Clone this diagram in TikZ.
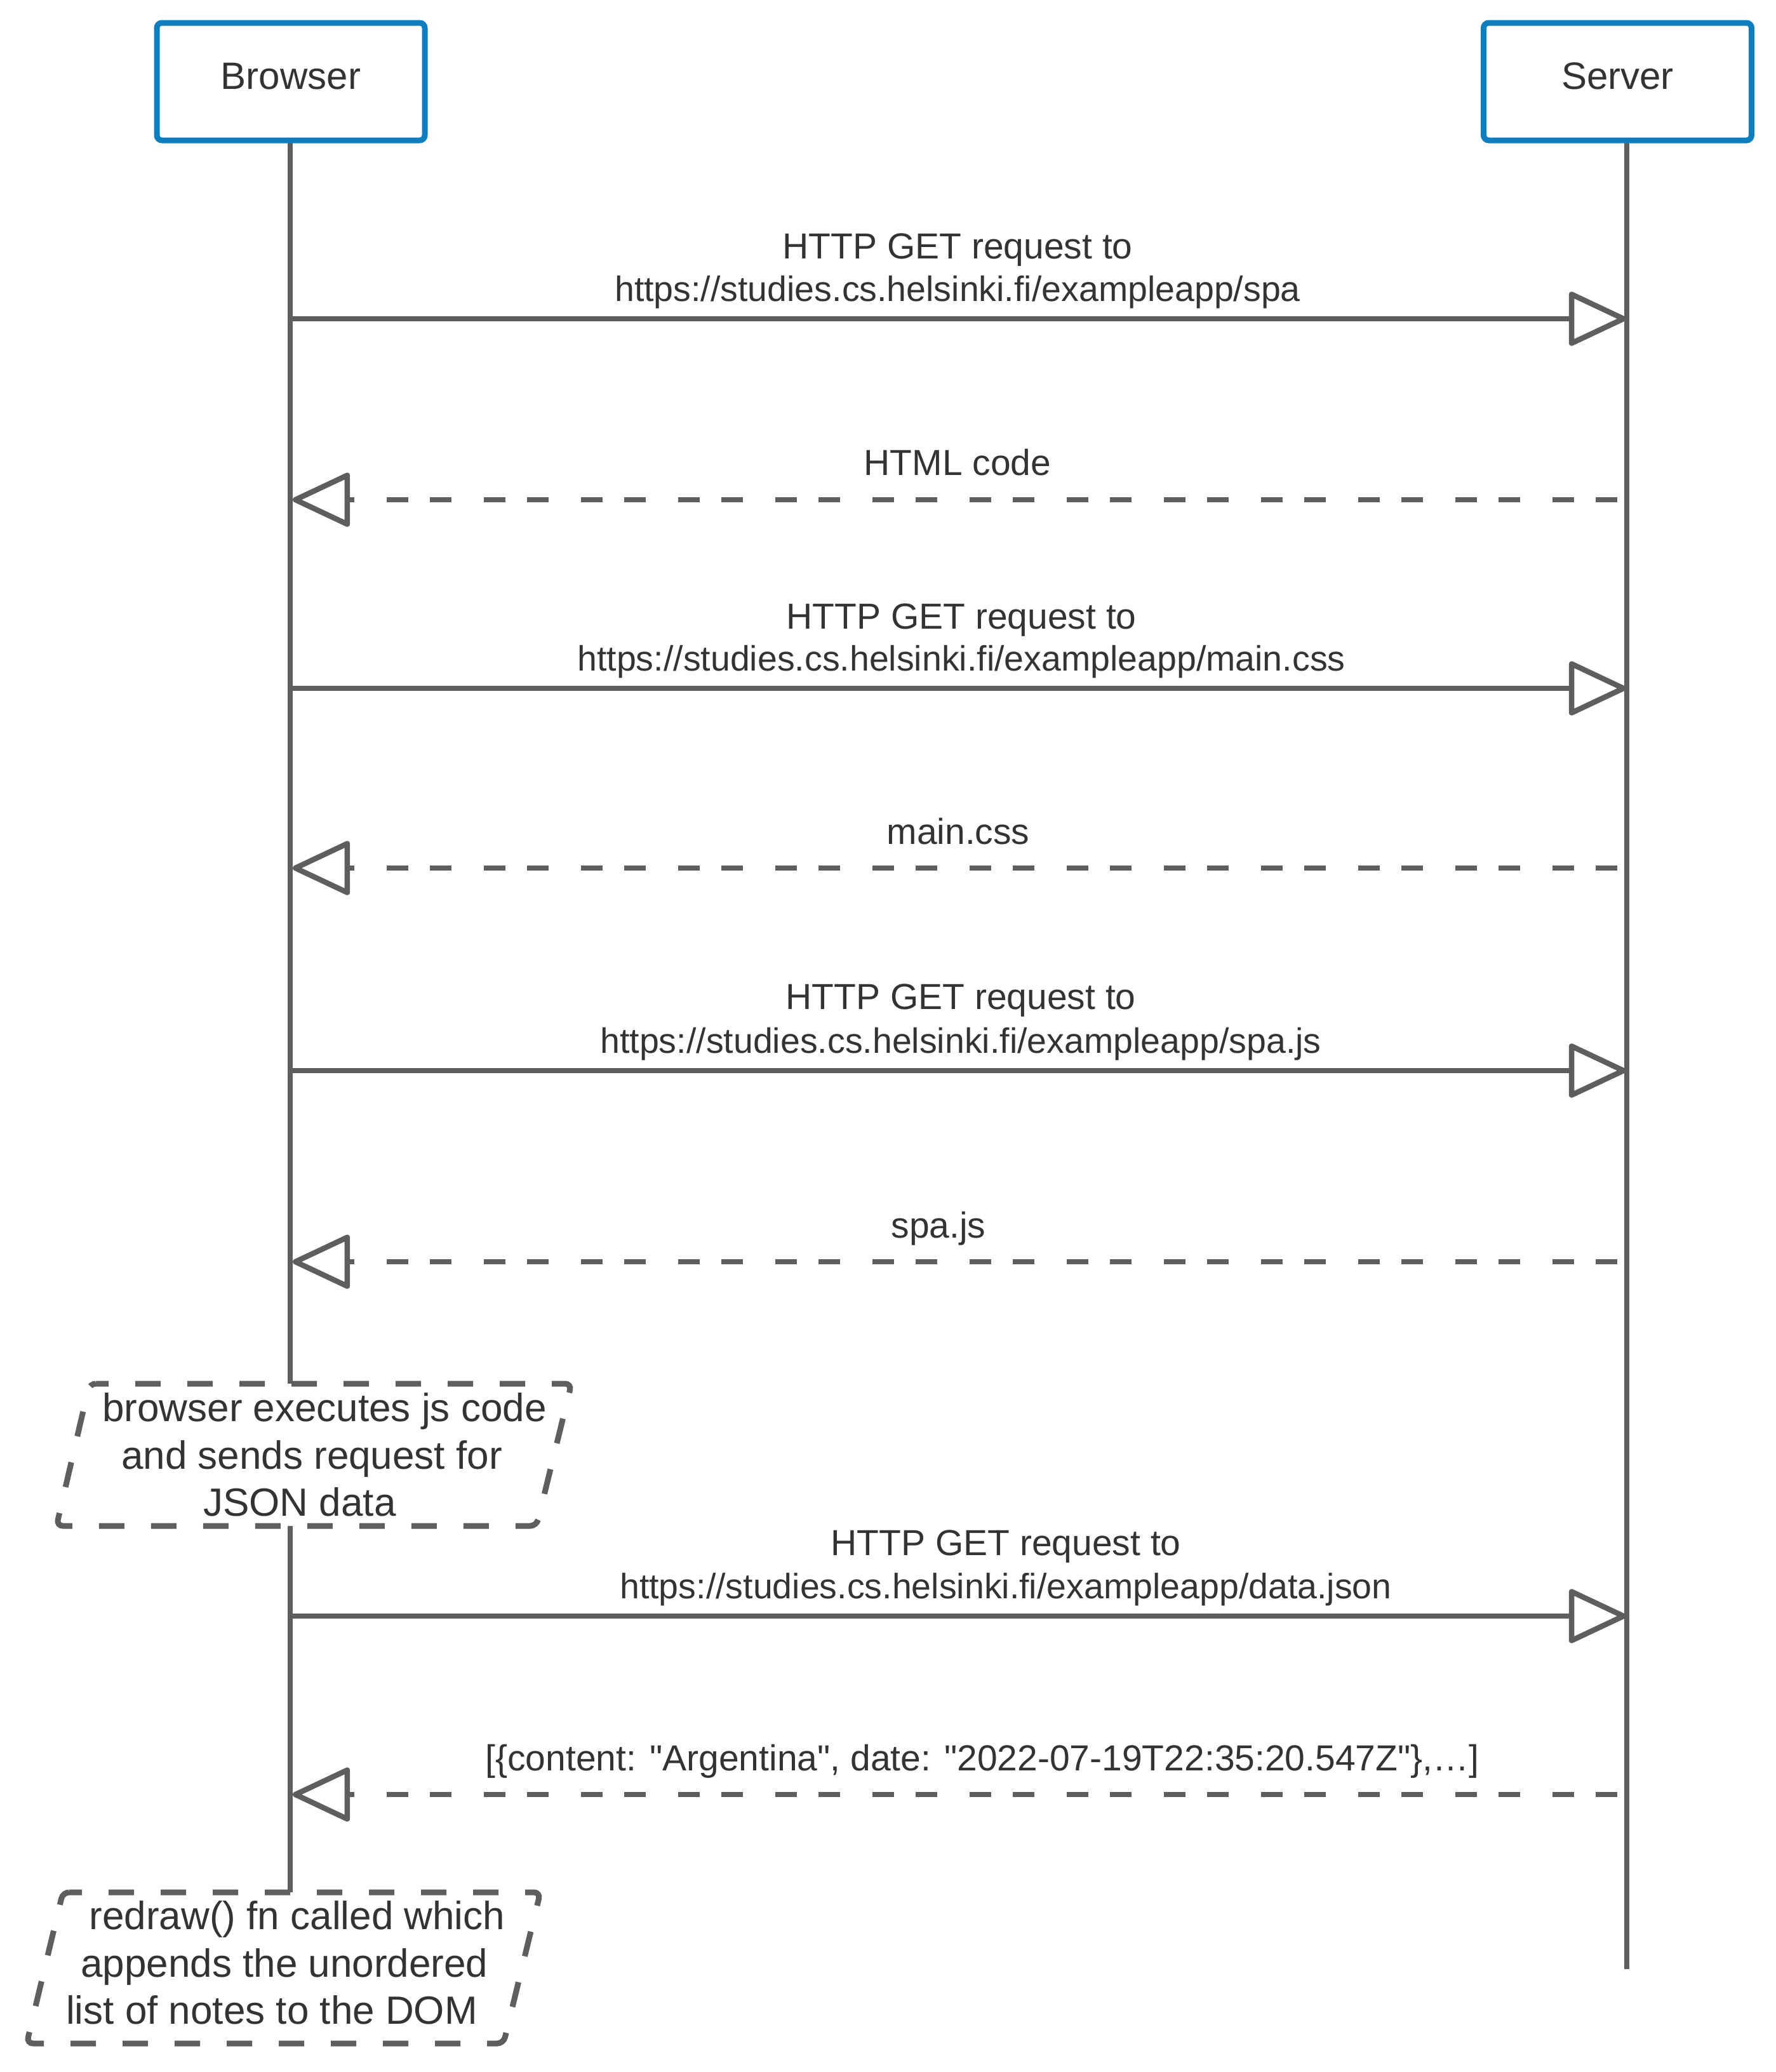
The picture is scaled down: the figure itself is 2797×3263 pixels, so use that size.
\documentclass[tikz,border=0pt]{standalone}
\usepackage{fontspec}
\setmainfont{Liberation Sans}[Ligatures=TeXOff]
\usetikzlibrary{arrows.meta}
\definecolor{lineg}{HTML}{5E5E5E}
\definecolor{boxblue}{HTML}{0F7EBE}
\definecolor{txt}{HTML}{333333}
\tikzset{
 actor/.style={draw=boxblue, line width=9pt, fill=white, rounded corners=8pt, minimum width=422pt, minimum height=185pt, inner sep=0pt, text=txt, font=\fontsize{60}{72}\selectfont, text height=43pt, text depth=20pt},
 life/.style={draw=lineg, line width=8.5pt},
 req/.style={draw=lineg, line width=8.5pt, -{Triangle[open, length=96pt, width=88pt, round]}},
 resp/.style={req, dash pattern=on 34pt off 34pt on 34pt off 51pt},
 lbl/.style={text=txt, font=\fontsize{57}{68}\selectfont, anchor=base, inner sep=0pt},
 url/.style={lbl, font=\fontsize{55.5}{66}\selectfont},
 notetext/.style={text=txt, font=\fontsize{62}{74.5}\selectfont, align=center, inner sep=0pt},
 noteshape/.style={draw=lineg, line width=9pt, dash pattern=on 40pt off 42pt, dash phase=20pt, rounded corners=10pt, fill=white},
}
\begin{document}
\begin{tikzpicture}[x=1pt, y=-1pt]
\useasboundingbox (0,0) rectangle (2797,3263);
% lifeline coordinates
\coordinate (btop) at (457,222);
\coordinate (n1top) at (457,2179);
\coordinate (n1bot) at (457,2403);
\coordinate (n2top) at (457,2980);
\coordinate (stop) at (2562,222);
\coordinate (sbot) at (2562,3101);
\draw[life] (btop) -- (n1top);
\draw[life] (n1bot) -- (n2top);
\draw[life] (stop) -- (sbot);
% message end points
\coordinate (b1) at (457,502);  \coordinate (s1) at (2561,502);
\coordinate (r2) at (2547,787); \coordinate (t2) at (461,787);
\coordinate (b3) at (457,1084); \coordinate (s3) at (2561,1084);
\coordinate (r4) at (2547,1367); \coordinate (t4) at (461,1367);
\coordinate (b5) at (457,1686); \coordinate (s5) at (2561,1686);
\coordinate (r6) at (2547,1987); \coordinate (t6) at (461,1987);
\coordinate (b7) at (457,2545); \coordinate (s7) at (2561,2545);
\coordinate (r8) at (2547,2826); \coordinate (t8) at (461,2826);
\draw[req] (b1) -- (s1);
\draw[resp] (r2) -- (t2);
\draw[req] (b3) -- (s3);
\draw[resp] (r4) -- (t4);
\draw[req] (b5) -- (s5);
\draw[resp] (r6) -- (t6);
\draw[req] (b7) -- (s7);
\draw[resp] (r8) -- (t8);
% labels
\node[lbl] (l1a) at (1508,407) {HTTP GET request to};
\node[url] (l1b) at (1508,474) {https://studies.cs.helsinki.fi/exampleapp/spa};
\node[lbl] (l2) at (1508,748) {HTML code};
\node[lbl] (l3a) at (1514,990) {HTTP GET request to};
\node[url] (l3b) at (1514,1056) {https://studies.cs.helsinki.fi/exampleapp/main.css};
\node[lbl] (l4) at (1509,1329) {main.css};
\node[lbl] (l5a) at (1513,1589) {HTTP GET request to};
\node[url] (l5b) at (1513,1658) {https://studies.cs.helsinki.fi/exampleapp/spa.js};
\node[lbl] (l6) at (1478,1949) {spa.js};
\node[lbl] (l7a) at (1584,2449) {HTTP GET request to};
\node[url] (l7b) at (1584,2517) {https://studies.cs.helsinki.fi/exampleapp/data.json};
\node[lbl] (l8) at (1547,2788) {[\{content: "Argentina", date: "2022-07-19T22:35:20.547Z"\},…]};
% notes
\draw[noteshape] (141,2179) coordinate (n1tl) -- (900,2179) coordinate (n1tr) -- (845,2403) coordinate (n1br) -- (89,2403) coordinate (n1bl) -- cycle;
\node[notetext] (note1) at (511,2291) {browser executes js code\\and sends request for\kern40pt\\JSON data\kern78pt};
\draw[noteshape] (99,2980) coordinate (n2tl) -- (851,2980) coordinate (n2tr) -- (793,3218) coordinate (n2br) -- (42,3218) coordinate (n2bl) -- cycle;
\node[notetext] (note2) at (468,3091) {redraw() fn called which\\appends the unordered\kern40pt\\list of notes to the DOM\kern80pt};
% actors
\node[actor] (browser) at (458,128.5) {Browser};
\node[actor] (server) at (2547.5,128.5) {Server};
\end{tikzpicture}
\end{document}
